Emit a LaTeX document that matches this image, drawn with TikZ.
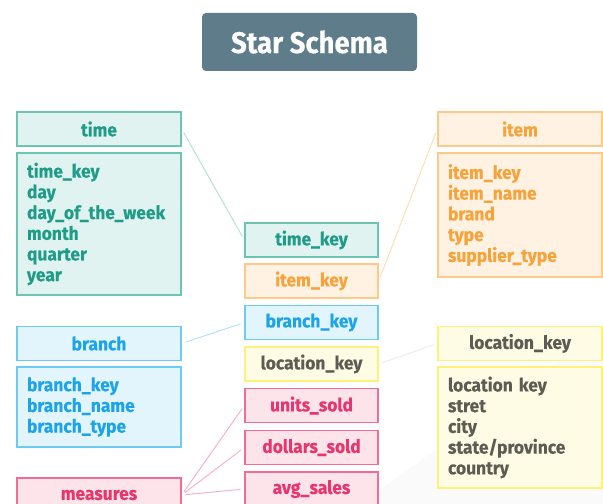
\documentclass[tikz,border=0pt]{standalone}
\usepackage{fontspec}
\setmainfont{Fira Sans}[FakeStretch=0.95, BoldFeatures={FakeBold=0.3}]
\newfontfamily\titlefont{Fira Sans}[FakeStretch=0.92, BoldFeatures={FakeBold=0.3}]
\definecolor{tealT}{HTML}{1E9C88}
\definecolor{tealB}{HTML}{6CC5B3}
\definecolor{tealF}{HTML}{E1F3F0}
\definecolor{tealL}{HTML}{B5E2D9}
\definecolor{orgT}{HTML}{F8A23A}
\definecolor{orgB}{HTML}{FFC98A}
\definecolor{orgF}{HTML}{FFF2E3}
\definecolor{orgL}{HTML}{FFDDB5}
\definecolor{bluT}{HTML}{1BA4EA}
\definecolor{bluB}{HTML}{6CCAF5}
\definecolor{bluF}{HTML}{E2F4FC}
\definecolor{bluL}{HTML}{B3E3F8}
\definecolor{yelT}{HTML}{5C5C52}
\definecolor{yelB}{HTML}{FFF07A}
\definecolor{yelF}{HTML}{FFFCE6}
\definecolor{yelL}{HTML}{EDEDED}
\definecolor{pnkT}{HTML}{E8356B}
\definecolor{pnkB}{HTML}{F36C95}
\definecolor{pnkF}{HTML}{FDE4EB}
\definecolor{pnkL}{HTML}{F8B3C8}
\definecolor{titleF}{HTML}{5F7C8B}
\begin{document}
\begin{tikzpicture}[x=1bp,y=-1bp,
  box/.style={draw, line width=1.3bp, rectangle, inner sep=0pt, minimum height=34bp,
    font=\bfseries\fontsize{18.4}{20}\selectfont},
  hdr/.style={box, minimum width=164bp},
  keybox/.style={box, minimum width=133bp},
  body/.style={draw, line width=1.3bp, rectangle, inner xsep=10bp, inner ysep=0pt,
    text width=144bp, align=left, font=\bfseries\fontsize{18.4}{20.8}\selectfont},
  teal/.style={draw=tealB, fill=tealF, text=tealT},
  org/.style={draw=orgB, fill=orgF, text=orgT},
  blu/.style={draw=bluB, fill=bluF, text=bluT},
  yel/.style={draw=yelB, fill=yelF, text=yelT},
  pnk/.style={draw=pnkB, fill=pnkF, text=pnkT},
  link/.style={line width=1bp, shorten <=4bp, shorten >=4bp}]
\useasboundingbox (0,0) rectangle (603,504);
\fill[white] (0,0) rectangle (603,504);
\fill[gray!4] (360,504) -- (603,330) -- (603,504) -- cycle;
% title
\node[fill=titleF, rounded corners=4bp, minimum width=215bp, minimum height=58bp,
  text=white, font=\titlefont\bfseries\fontsize{30}{32}\selectfont] (title) at (309.5,42) {Star Schema};
% time
\node[hdr, teal] (timeh) at (99,129) {time};
\node[body, teal, minimum height=142bp] (timeb) at (99,224) {time\_key\\day\\day\_of\_the\_week\\month\\quarter\\year};
% item
\node[hdr, org] (itemh) at (520,129) {item};
\node[body, org, minimum height=124bp] (itemb) at (520,215) {item\_key\\item\_name\\brand\\type\\supplier\_type};
% branch
\node[hdr, blu] (branchh) at (99,343.5) {branch};
\node[body, blu, minimum height=80bp] (branchb) at (99,407) {branch\_key\\branch\_name\\branch\_type};
% location
\node[hdr, yel] (loch) at (520,343.5) {location\_key};
\node[body, yel, minimum height=121bp] (locb) at (520,427.5) {location key\\stret\\city\\state/province\\country};
% measures
\node[hdr, pnk] (meas) at (99,495) {measures};
% center fact
\node[keybox, teal] (timekey) at (311.5,240) {time\_key};
\node[keybox, org] (itemkey) at (311.5,281) {item\_key};
\node[keybox, blu] (branchkey) at (311.5,322.5) {branch\_key};
\node[keybox, yel] (lockey) at (311.5,364) {location\_key};
\node[keybox, pnk] (units) at (311.5,405.5) {units\_sold};
\node[keybox, pnk] (dollars) at (311.5,447.5) {dollars\_sold};
\node[keybox, pnk] (avg) at (311.5,489) {avg\_sales};
% connectors
\draw[link, tealL] (timeh.east) -- (timekey.west);
\draw[link, orgL] (itemkey.east) -- (itemh.west);
\draw[link, bluL] (branchh.east) -- (branchkey.west);
\draw[link, yelL] (lockey.east) -- (loch.west);
\draw[link, pnkL] (meas.east) -- (units.west);
\draw[link, pnkL] (meas.east) -- (dollars.west);
\draw[link, pnkL] (meas.east) -- (avg.west);
\end{tikzpicture}
\end{document}
